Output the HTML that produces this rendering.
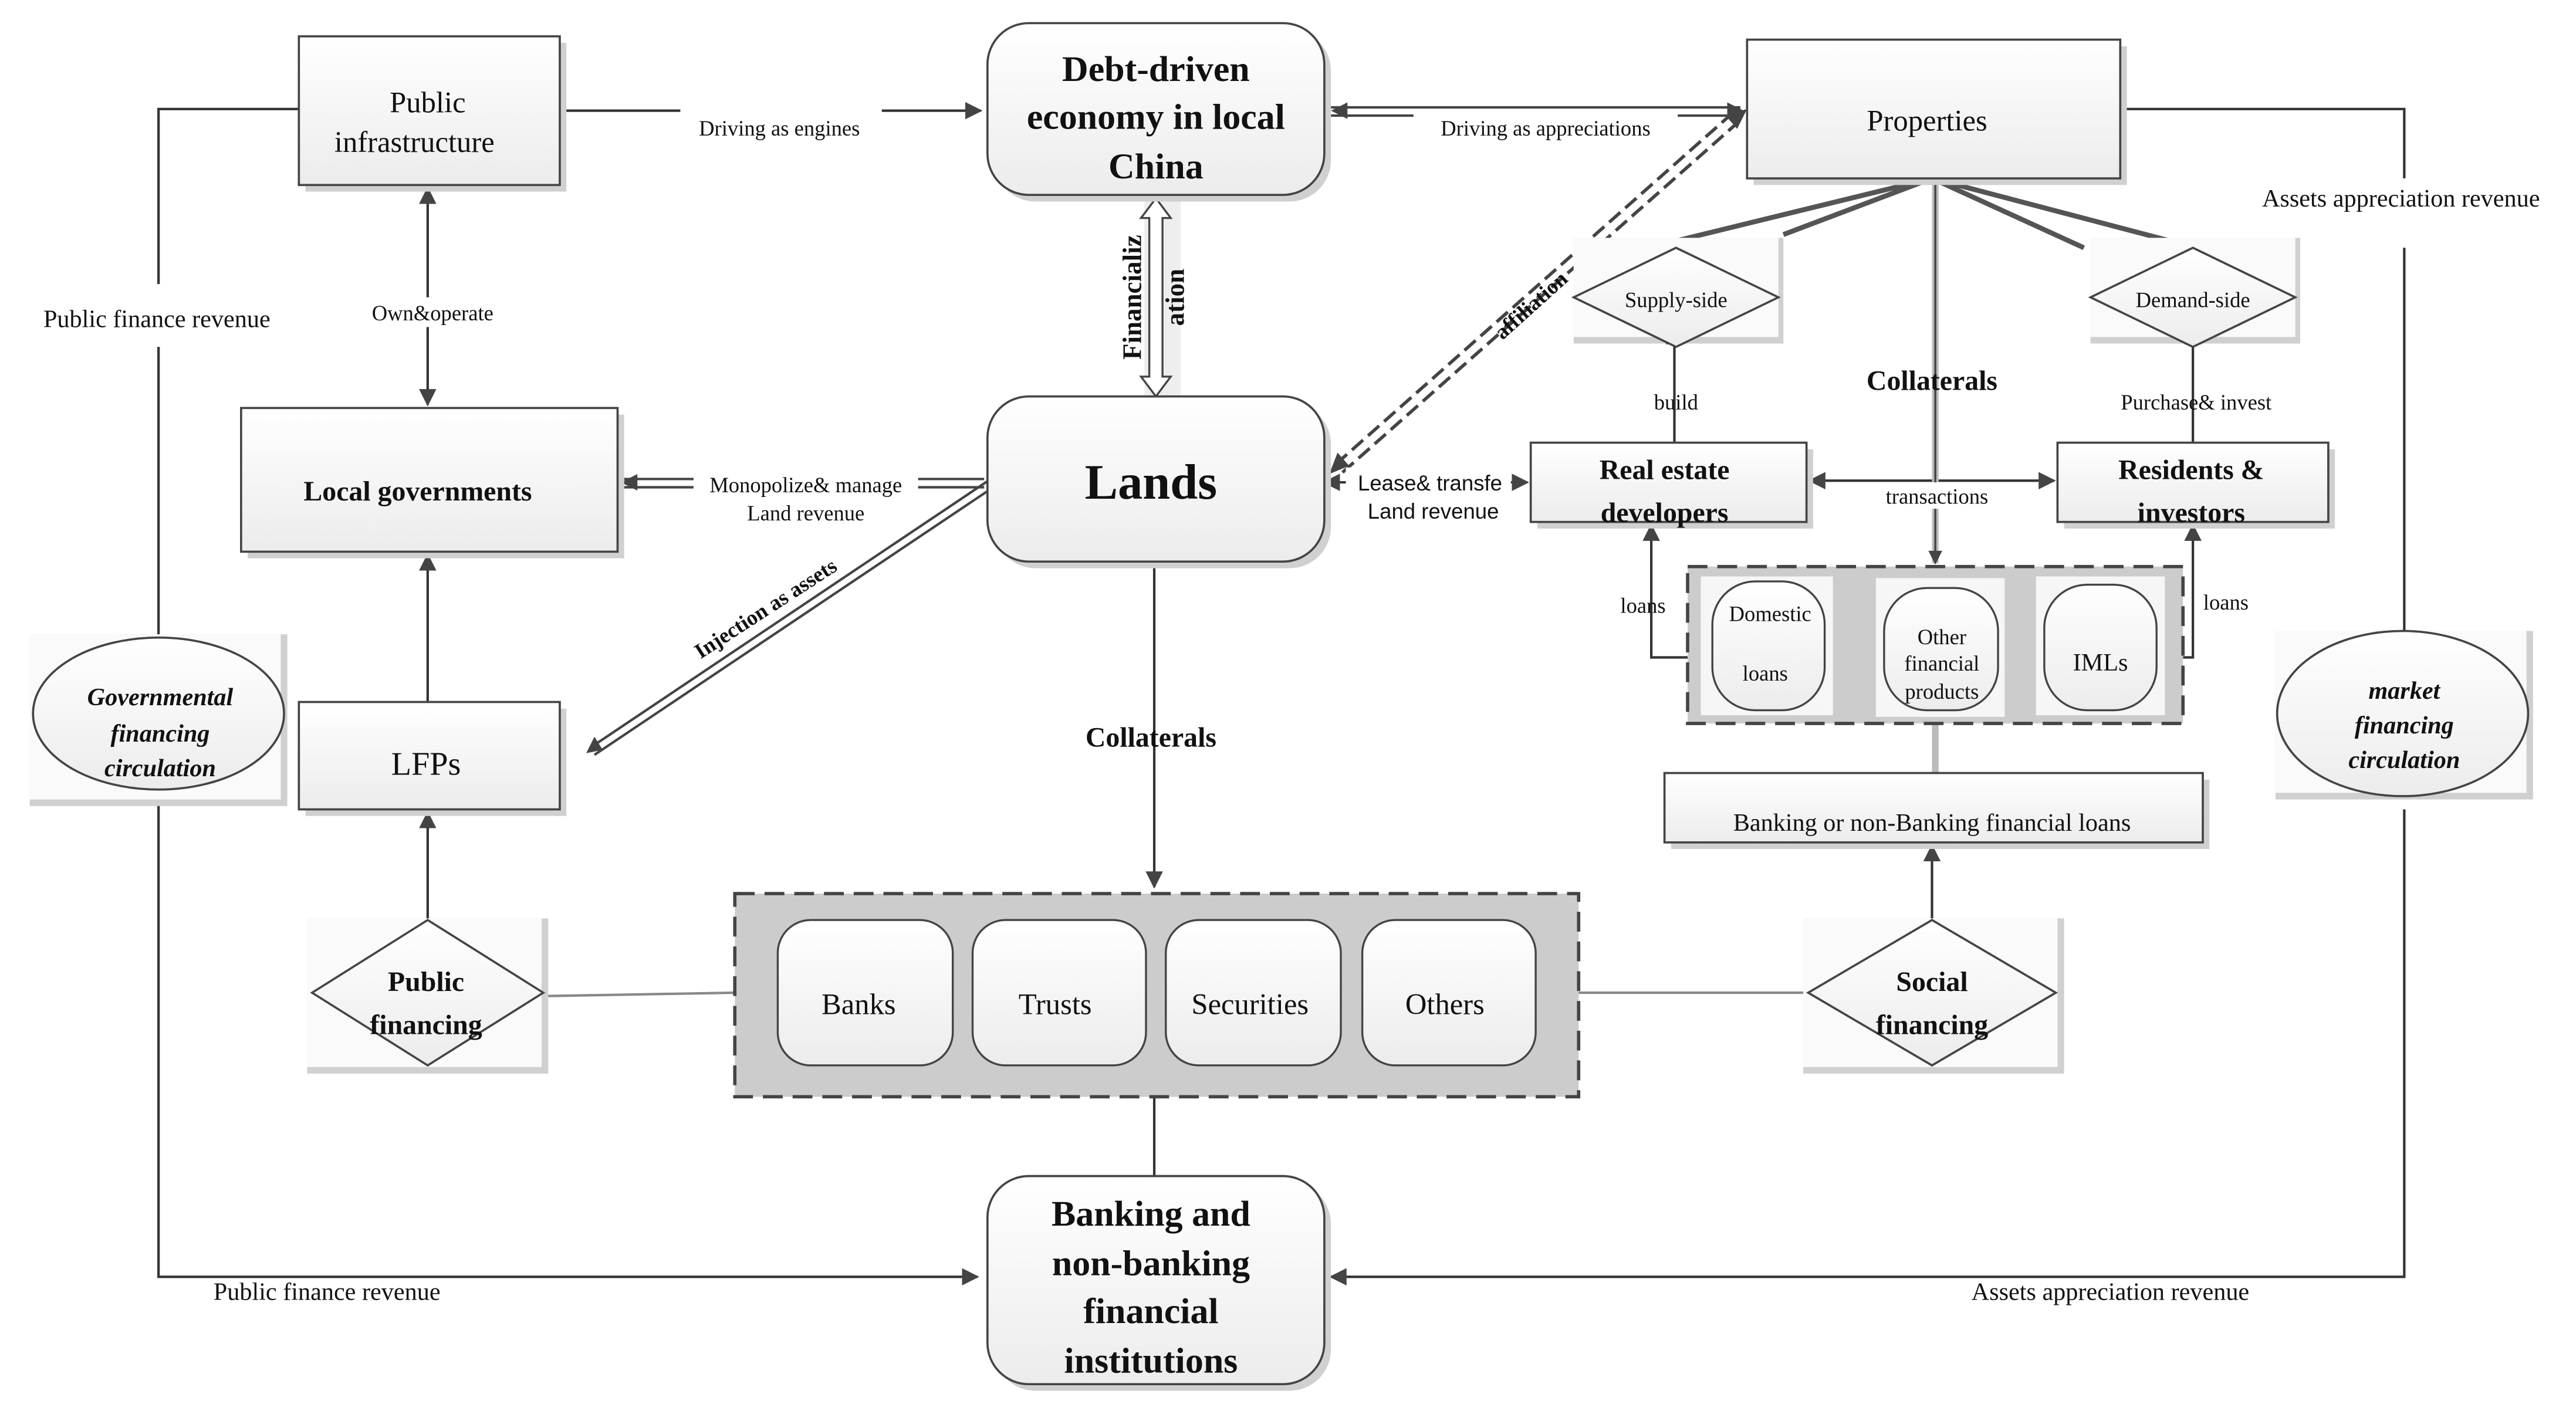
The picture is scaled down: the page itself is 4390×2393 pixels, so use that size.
<!DOCTYPE html>
<html><head><meta charset="utf-8"><style>
html,body{margin:0;padding:0;background:#fff;}
svg{display:block;}
text{font-family:"Liberation Serif",serif;fill:#111;}
.b{font-weight:bold;}
</style></head><body>
<svg width="4390" height="2393" viewBox="0 0 1560 850" preserveAspectRatio="none" xmlns="http://www.w3.org/2000/svg">
<defs>
<linearGradient id="g" x1="0" y1="0" x2="0" y2="1"><stop offset="0" stop-color="#ffffff"/><stop offset="1" stop-color="#ececec"/></linearGradient>
<marker id="a" viewBox="0 0 10 10" refX="9" refY="5" markerWidth="7" markerHeight="7" orient="auto-start-reverse"><path d="M0,0 L10,5 L0,10 z" fill="#444"/></marker>
</defs>
<rect width="1560" height="850" fill="#fff"/>

<!-- loops -->
<g fill="none" stroke="#333" stroke-width="1.5">
<polyline points="181,66 96,66 96,172"/>
<line x1="96" y1="210" x2="96" y2="386"/>
<polyline points="96,484 96,773 592,773" marker-end="url(#a)"/>
<polyline points="1284,66 1456,66 1456,108"/>
<line x1="1456" y1="150" x2="1456" y2="384"/>
<polyline points="1456,490 1456,773 806,773" marker-end="url(#a)"/>
<line x1="339" y1="67" x2="594" y2="67" marker-end="url(#a)"/>
<line x1="259" y1="114" x2="259" y2="245" marker-start="url(#a)" marker-end="url(#a)"/>
<line x1="259" y1="425" x2="259" y2="336" marker-end="url(#a)"/>
<line x1="259" y1="557" x2="259" y2="492" marker-end="url(#a)"/>
<line x1="332" y1="603" x2="445" y2="601" stroke="#888"/>
<line x1="699" y1="340" x2="699" y2="537" marker-end="url(#a)"/>
<line x1="699" y1="664" x2="699" y2="712"/>
<line x1="956" y1="601" x2="1095" y2="601" stroke="#888"/>
<line x1="1170" y1="557" x2="1170" y2="512" marker-end="url(#a)"/>
<line x1="1014" y1="268" x2="1014" y2="199" marker-end="url(#a)"/>
<line x1="1328" y1="268" x2="1328" y2="199" marker-end="url(#a)"/>
<line x1="1096" y1="291" x2="1244" y2="291" marker-start="url(#a)" marker-end="url(#a)"/>
<polyline points="1022,398 1000,398 1000,318" marker-end="url(#a)"/>
<polyline points="1322,398 1328,398 1328,318" marker-end="url(#a)"/>
<line x1="802" y1="292" x2="925" y2="292" marker-start="url(#a)" marker-end="url(#a)"/>
</g>
<!-- gray connectors -->
<line x1="1172" y1="470" x2="1172" y2="438" stroke="#bbb" stroke-width="4"/>
<line x1="1172" y1="108" x2="1172" y2="341" stroke="#bbb" stroke-width="4"/>
<line x1="1172" y1="108" x2="1172" y2="341" stroke="#444" stroke-width="1.2" marker-end="url(#a)"/>
<g stroke="#555" stroke-width="3">
<line x1="1170" y1="108" x2="957" y2="160"/><line x1="1170" y1="108" x2="1080" y2="142"/>
<line x1="1170" y1="108" x2="1330" y2="150"/><line x1="1170" y1="108" x2="1262" y2="150"/>
</g>
<!-- double lines -->
<g stroke="#444" stroke-width="1.5" fill="none">
<line x1="806" y1="65" x2="1054" y2="65"/><line x1="806" y1="70" x2="1054" y2="70"/>
<line x1="378" y1="290" x2="596" y2="290"/><line x1="378" y1="295" x2="596" y2="295"/>
<line x1="600" y1="290" x2="357" y2="453"/><line x1="603" y1="294" x2="360" y2="457"/>
</g>
<path d="M806,67 l10,-5 v10 z M1056,67 l-10,-5 v10 z M376,292 l10,-5 v10z M355,456 l5,-10 l5,8z" fill="#444"/>
<!-- dashed affiliation -->
<g stroke="#444" stroke-width="2" stroke-dasharray="9,4" fill="none">
<line x1="809" y1="281" x2="1052" y2="66"/><line x1="813" y1="286" x2="1056" y2="71"/>
</g>
<path d="M805,287 l5,-13 l7,8z M1058,66 l-13,4 l7,8z" fill="#444"/>
<!-- financialization arrow -->
<rect x="693" y="118" width="22" height="124" fill="#eee"/>
<path d="M700,120 l-9,12 h5 v96 h-5 l9,12 l9,-12 h-5 v-96 h5 z" fill="#fff" stroke="#444" stroke-width="1.2"/>

<!-- shadows -->
<g fill="#d0d0d0">
<rect x="185" y="26" width="158" height="90"/><rect x="1062" y="28" width="226" height="84"/>
<rect x="150" y="251" width="228" height="87"/><rect x="931" y="272" width="167" height="48"/>
<rect x="1250" y="272" width="164" height="48"/><rect x="185" y="429" width="158" height="65"/>
<rect x="1012" y="472" width="326" height="42"/>
<rect x="18" y="384" width="156" height="104"/><rect x="1378" y="382" width="156" height="102"/>
<rect x="186" y="556" width="146" height="94"/><rect x="1092" y="556" width="158" height="94"/>
<rect x="953" y="144" width="127" height="64"/><rect x="1266" y="144" width="127" height="64"/>
<rect x="602" y="18" width="204" height="104" rx="25"/><rect x="602" y="244" width="204" height="100" rx="25"/>
<rect x="602" y="716" width="204" height="126" rx="25"/>
</g>
<g fill="#fafafa"><rect x="18" y="384" width="152" height="100"/><rect x="1378" y="382" width="152" height="98"/>
<rect x="186" y="556" width="142" height="90"/><rect x="1092" y="556" width="154" height="90"/>
<rect x="953" y="144" width="124" height="60"/><rect x="1266" y="144" width="124" height="60"/></g>

<!-- boxes -->
<g fill="url(#g)" stroke="#444" stroke-width="1.3">
<rect x="181" y="22" width="158" height="90"/><rect x="1058" y="24" width="226" height="84"/>
<rect x="146" y="247" width="228" height="87"/><rect x="927" y="268" width="167" height="48"/>
<rect x="1246" y="268" width="164" height="48"/><rect x="181" y="425" width="158" height="65"/>
<rect x="1008" y="468" width="326" height="42"/>
<rect x="598" y="14" width="204" height="104" rx="25"/><rect x="598" y="240" width="204" height="100" rx="25"/>
<rect x="598" y="712" width="204" height="126" rx="25"/>
<ellipse cx="96" cy="432" rx="76" ry="46"/><ellipse cx="1455" cy="432" rx="76" ry="50"/>
<polygon points="259,557 329,601 259,645 189,601"/><polygon points="1170,557 1245,601 1170,645 1095,601"/>
<polygon points="1015,150 1077,180 1015,210 953,180"/><polygon points="1328,150 1390,180 1328,210 1266,180"/>
</g>

<!-- containers -->
<rect x="445" y="541" width="511" height="123" fill="#ccc" stroke="#444" stroke-width="2" stroke-dasharray="12,6"/>
<rect x="1022" y="343" width="300" height="95" fill="#ccc" stroke="#444" stroke-width="2" stroke-dasharray="12,6"/>
<g fill="url(#g)" stroke="#444" stroke-width="1.2">
<rect x="471" y="557" width="106" height="88" rx="20"/><rect x="589" y="557" width="105" height="88" rx="20"/>
<rect x="706" y="557" width="106" height="88" rx="20"/><rect x="825" y="557" width="105" height="88" rx="20"/>
</g>
<g fill="#f6f6f6"><rect x="1030" y="349" width="80" height="84"/><rect x="1136" y="350" width="78" height="84"/><rect x="1233" y="349" width="78" height="84"/></g>
<g fill="url(#g)" stroke="#444" stroke-width="1.2">
<rect x="1037" y="352" width="68" height="78" rx="26"/><rect x="1141" y="356" width="69" height="74" rx="26"/><rect x="1238" y="354" width="68" height="76" rx="26"/>
</g>

<!-- labels -->
<g font-size="13" text-anchor="middle">
<rect x="412" y="66" width="122" height="18" fill="#fff"/>
<text x="472" y="82">Driving as engines</text>
<rect x="856" y="66" width="160" height="18" fill="#fff"/>
<text x="936" y="82">Driving as appreciations</text>
<text x="95" y="198" font-size="15">Public finance revenue</text>
<text x="1454" y="125" font-size="15">Assets appreciation revenue</text>
<text x="198" y="787" font-size="15">Public finance revenue</text>
<text x="1278" y="787" font-size="15">Assets appreciation revenue</text>
<rect x="215" y="180" width="94" height="18" fill="#fff"/>
<text x="262" y="194">Own&amp;operate</text>
<rect x="420" y="284" width="136" height="34" fill="#fff"/>
<text x="488" y="298">Monopolize&amp; manage</text>
<text x="488" y="315">Land revenue</text>
<rect x="815" y="283" width="100" height="36" fill="#fff"/>
<text x="866" y="297" font-family="Liberation Sans, sans-serif" style="font-family:'Liberation Sans',sans-serif">Lease&amp; transfe</text>
<text x="868" y="314" style="font-family:'Liberation Sans',sans-serif">Land revenue</text>
<text x="1015" y="248">build</text>
<text x="1330" y="248">Purchase&amp; invest</text>
<rect x="1134" y="292" width="76" height="16" fill="#fff"/>
<text x="1173" y="305">transactions</text>
<text x="995" y="371">loans</text>
<text x="1348" y="369">loans</text>
<text x="1015" y="186">Supply-side</text>
<text x="1328" y="186">Demand-side</text>
<text x="1072" y="376">Domestic</text>
<text x="1069" y="412">loans</text>
<text x="1176" y="390">Other</text><text x="1176" y="406">financial</text><text x="1176" y="423">products</text>
<text x="1272" y="406" font-size="15">IMLs</text>
</g>
<g text-anchor="middle">
<text x="259" y="68" font-size="18">Public</text><text x="251" y="92" font-size="18">infrastructure</text>
<text x="1167" y="79" font-size="18">Properties</text>
<text x="700" y="49" font-size="22" class="b">Debt-driven</text>
<text x="700" y="78" font-size="22" class="b">economy in local</text>
<text x="700" y="108" font-size="22" class="b">China</text>
<text x="697" y="302" font-size="30" class="b">Lands</text>
<text x="253" y="303" font-size="17" class="b">Local governments</text>
<text x="1008" y="290" font-size="17" class="b">Real estate</text><text x="1008" y="316" font-size="17" class="b">developers</text>
<text x="1327" y="290" font-size="17" class="b">Residents  &amp;</text><text x="1327" y="316" font-size="17" class="b">investors</text>
<text x="1170" y="236" font-size="17" class="b">Collaterals</text>
<text x="697" y="452" font-size="17" class="b">Collaterals</text>
<text x="258" y="469" font-size="20">LFPs</text>
<text x="258" y="600" font-size="17" class="b">Public</text><text x="258" y="626" font-size="17" class="b">financing</text>
<text x="1170" y="600" font-size="17" class="b">Social</text><text x="1170" y="626" font-size="17" class="b">financing</text>
<text x="520" y="614" font-size="18">Banks</text><text x="639" y="614" font-size="18">Trusts</text>
<text x="757" y="614" font-size="18">Securities</text><text x="875" y="614" font-size="18">Others</text>
<text x="1170" y="503" font-size="15">Banking or non-Banking financial loans</text>
<text x="697" y="742" font-size="22" class="b">Banking and</text>
<text x="697" y="772" font-size="22" class="b">non-banking</text>
<text x="697" y="801" font-size="22" class="b">financial</text>
<text x="697" y="831" font-size="22" class="b">institutions</text>
<text x="97" y="427" font-size="15" class="b" font-style="italic">Governmental</text>
<text x="97" y="449" font-size="15" class="b" font-style="italic">financing</text>
<text x="97" y="470" font-size="15" class="b" font-style="italic">circulation</text>
<text x="1456" y="423" font-size="15" class="b" font-style="italic">market</text>
<text x="1456" y="444" font-size="15" class="b" font-style="italic">financing</text>
<text x="1456" y="465" font-size="15" class="b" font-style="italic">circulation</text>
</g>
<text transform="translate(691,180) rotate(-90)" text-anchor="middle" font-size="16" class="b">Financializ</text>
<text transform="translate(717,180) rotate(-90)" text-anchor="middle" font-size="16" class="b">ation</text>
<text transform="translate(466,372) rotate(-33)" text-anchor="middle" font-size="13" class="b">Injection as assets</text>
<text transform="translate(930,188) rotate(-42)" text-anchor="middle" font-size="13" class="b">affiliation</text>
</svg>
</body></html>
